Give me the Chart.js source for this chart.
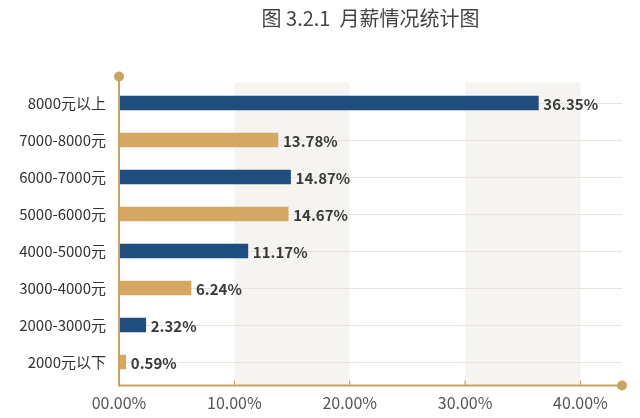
<!DOCTYPE html>
<html>
<head>
<meta charset="utf-8">
<script src="https://cdn.jsdelivr.net/npm/chart.js@4"></script>
<style>
  html, body { margin: 0; padding: 0; background: #fff; }
  #wrap { width: 640px; height: 418px; }
</style>
</head>
<body>
<div id="wrap"><canvas id="salaryChart"></canvas></div>
<script>
var categories = ["8000元以上", "7000-8000元", "6000-7000元", "5000-6000元", "4000-5000元", "3000-4000元", "2000-3000元", "2000元以下"];
var percentages = [36.35, 13.78, 14.87, 14.67, 11.17, 6.24, 2.32, 0.59];
var tickValues = [0, 10, 20, 30, 40];
var tickLabels = ["00.00%", "10.00%", "20.00%", "30.00%", "40.00%"];
var barColors = ["#1f4d7d", "#d4a762", "#1f4d7d", "#d4a762", "#1f4d7d", "#d4a762", "#1f4d7d", "#d4a762"];

var FONT = "'Noto Sans CJK SC', 'Noto Sans', sans-serif";
var GOLD = "#c9a266";

// shaded columns + white background
var backdrop = {
    id: 'backdrop',
    beforeDraw: function (chart) {
        var ctx = chart.ctx, x = chart.scales.x, area = chart.chartArea;
        ctx.save();
        ctx.fillStyle = '#fff';
        ctx.fillRect(0, 0, chart.width, chart.height);
        ctx.fillStyle = '#f6f4f0';
        [[10, 20], [30, 40]].forEach(function (b) {
            var x0 = x.getPixelForValue(b[0]), x1 = x.getPixelForValue(b[1]);
            ctx.fillRect(x0, area.top - 2, x1 - x0, area.bottom + 6 - area.top + 2);
        });
        ctx.restore();
    }
};

// gold axes with dots, tick marks and value labels
var decor = {
    id: 'decor',
    afterDatasetsDraw: function (chart) {
        var ctx = chart.ctx, x = chart.scales.x, area = chart.chartArea;
        var axisY = area.bottom + 5, left = area.left, right = area.right;
        ctx.save();
        ctx.strokeStyle = GOLD;
        ctx.lineWidth = 2;
        ctx.beginPath();
        ctx.moveTo(left, area.top - 8);
        ctx.lineTo(left, axisY);
        ctx.lineTo(right, axisY);
        ctx.stroke();
        ctx.lineWidth = 1.2;
        tickValues.slice(1).forEach(function (v) {
            var px = x.getPixelForValue(v);
            ctx.beginPath();
            ctx.moveTo(px, axisY);
            ctx.lineTo(px, axisY - 5);
            ctx.stroke();
        });
        ctx.fillStyle = GOLD;
        ctx.beginPath();
        ctx.arc(left, area.top - 8, 5, 0, Math.PI * 2);
        ctx.fill();
        ctx.beginPath();
        ctx.arc(right, axisY, 5, 0, Math.PI * 2);
        ctx.fill();

        ctx.fillStyle = '#3a3a3a';
        ctx.font = 'bold 15px ' + FONT;
        ctx.textBaseline = 'middle';
        ctx.textAlign = 'left';
        chart.getDatasetMeta(0).data.forEach(function (bar, i) {
            ctx.fillText(percentages[i].toFixed(2) + '%', bar.x + 5, bar.y + 1);
        });
        ctx.restore();
    }
};

new Chart("salaryChart", {
    type: "bar",
    data: {
        labels: categories,
        datasets: [{
            data: percentages,
            backgroundColor: barColors,
            barThickness: 14
        }]
    },
    options: {
        indexAxis: 'y',
        responsive: true,
        maintainAspectRatio: false,
        animation: false,
        layout: { padding: { left: 0, right: 18, top: 0, bottom: 0 } },
        scales: {
            x: {
                min: 0,
                max: 43.6,
                afterBuildTicks: function (scale) {
                    scale.ticks = tickValues.map(function (v) { return { value: v }; });
                },
                afterFit: function (scale) { scale.height = 37.5; },
                grid: { display: false, drawTicks: false },
                border: { display: false },
                ticks: {
                    padding: 13,
                    color: '#555',
                    font: { family: FONT, size: 16 },
                    callback: function (v) { return tickLabels[tickValues.indexOf(v)]; }
                }
            },
            y: {
                afterFit: function (scale) { scale.width = 119; },
                grid: { offset: false, color: '#e9e5dd', drawTicks: false },
                border: { display: false },
                ticks: {
                    padding: 13,
                    color: '#333',
                    font: { family: FONT, size: 15 }
                }
            }
        },
        plugins: {
            legend: { display: false },
            tooltip: { enabled: false },
            title: {
                display: true,
                fullSize: false,
                text: "图 3.2.1  月薪情况统计图",
                color: '#444',
                font: { family: FONT, size: 20, weight: 'normal' },
                padding: { top: 6, bottom: 54.5 }
            }
        }
    },
    plugins: [backdrop, decor]
});
</script>
</body>
</html>
